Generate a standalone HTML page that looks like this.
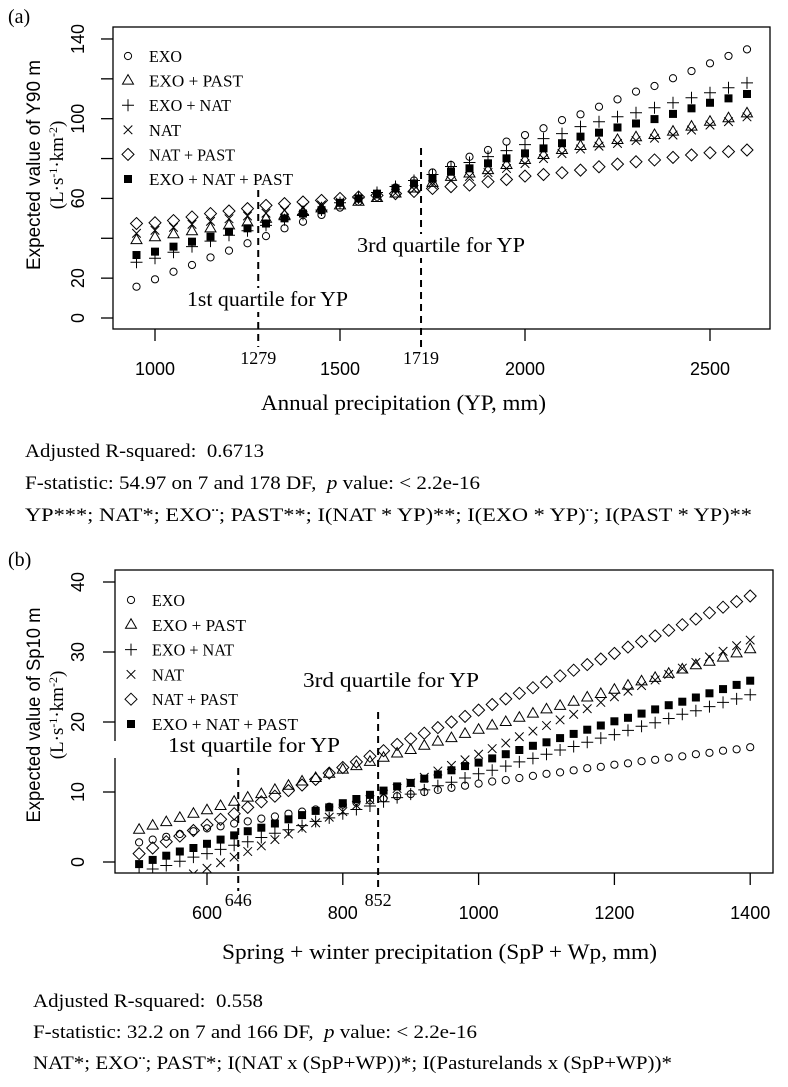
<!DOCTYPE html>
<html><head><meta charset="utf-8"><style>
html,body{margin:0;padding:0;background:#fff;}
svg{display:block;font-family:"Liberation Serif",serif;}
.sans{font-family:"Liberation Sans",sans-serif;}
</style></head><body>
<svg id="fig" width="788" height="1087" viewBox="0 0 788 1087" xmlns="http://www.w3.org/2000/svg">
<defs>
<clipPath id="clipA"><rect x="113" y="27" width="657" height="302"/></clipPath>
<clipPath id="clipB"><rect x="115" y="570" width="658" height="303"/></clipPath>
</defs>
<g id="panelA"></g>
<g id="panelB"></g>
</svg>
<script>
// ---------- Panel (a) data ----------
const aX = [950,1000,1050,1100,1150,1200,1250,1300,1350,1400,1450,1500,1550,1600,1650,1700,1750,1800,1850,1900,1950,2000,2050,2100,2150,2200,2250,2300,2350,2400,2450,2500,2550,2600];
const aEXO = [15.7,19.4,23.2,26.6,30.4,33.8,37.5,41.1,45.0,48.3,51.7,55.4,58.4,62.0,65.5,69.0,73.0,76.8,80.9,84.3,88.5,91.8,95.2,99.3,102.2,106,109.7,113.6,116.4,120.3,123.9,127.8,131.5,134.8];
const aEXOPAST = [39.1,40.5,42.0,43.5,45.0,46.5,48.0,49.8,51.5,53.2,55.0,56.5,58.3,60.2,62.5,65.0,67.8,70.8,72.5,74.2,76.8,79.3,81.8,84.3,86.3,87.7,89.3,90.7,91.8,93.5,96.0,98.5,100.2,102.7];
const aEXONAT = [28.0,30.0,33.0,35.8,38.6,41.5,43.8,46.5,49.3,52.0,54.2,57.8,60.3,63.0,66.0,69.0,72.0,76,78,81,84,87,90,92.5,96,98.5,101,103,105.5,108,110.5,113,115.5,118];
const aNAT = [42.5,44.0,45.5,47.0,48.5,49.8,51.2,52.6,54.0,55.4,56.8,58.2,59.5,61.0,62.6,64.5,66.8,69.0,71.0,73.0,75.0,77.5,80.0,82.5,84.8,86.2,87.6,89.0,90.2,91.8,94.3,96.8,98.5,100.9];
const aNATPAST = [47.4,47.8,48.9,50.7,52.4,53.7,54.9,56.5,57.4,58.2,59.0,60.0,60.7,61.5,62.4,63.5,65.0,65.9,66.7,68.4,69.5,71.2,72.0,72.9,74.2,75.9,77.2,78.4,79.3,80.6,81.8,82.9,83.5,84.3];
const aALL = [31.6,33.3,35.8,38.3,40.8,43.3,45.0,47.4,50.0,52.4,54.1,57.8,60.0,62.4,65.0,67.5,70.0,73.4,75.1,77.6,80.1,82.6,85.1,87.7,91.0,93.0,95.6,97.6,99.8,102.4,105.2,108.0,110.2,112.4];
const aXTicks = [1000,1500,2000,2500];
const aYTicks = [0,20,40,60,80,100,120,140];
const aYLabels = [0,20,60,100,140];
const aQuart = [1279,1719];

// ---------- Panel (b) data ----------
const bX = [500,520,540,560,580,600,620,640,660,680,700,720,740,760,780,800,820,840,860,880,900,920,940,960,980,1000,1020,1040,1060,1080,1100,1120,1140,1160,1180,1200,1220,1240,1260,1280,1300,1320,1340,1360,1380,1400];
const bEXO = [2.8,3.2,3.6,4.0,4.4,4.8,5.1,5.5,5.8,6.2,6.5,6.9,7.2,7.5,7.9,8.2,8.5,8.8,9.1,9.4,9.7,10.0,10.3,10.6,10.9,11.2,11.5,11.7,12.0,12.3,12.6,12.8,13.1,13.4,13.6,13.9,14.1,14.4,14.6,14.9,15.1,15.4,15.6,15.9,16.1,16.4];
const bEXOPAST = [4.6,5.2,5.7,6.3,6.9,7.4,8.0,8.6,9.2,9.7,10.3,10.9,11.5,12.0,12.6,13.2,13.7,14.3,14.9,15.5,16.0,16.6,17.2,17.7,18.3,18.9,19.5,20.0,20.6,21.2,21.8,22.3,22.9,23.5,24.0,24.6,25.2,25.8,26.3,26.9,27.5,28.1,28.6,29.2,29.8,30.4];
const bEXONAT = [-1.6,-1.0,-0.5,0.1,0.7,1.2,1.8,2.4,2.9,3.5,4.1,4.6,5.2,5.8,6.3,6.9,7.5,8.0,8.6,9.2,9.7,10.3,10.9,11.4,12.0,12.6,13.1,13.7,14.3,14.8,15.4,16.0,16.5,17.1,17.7,18.2,18.8,19.4,19.9,20.5,21.1,21.6,22.2,22.8,23.3,23.9];
const bNAT = [-5.0,-4.2,-3.4,-2.6,-1.7,-0.9,-0.1,0.7,1.5,2.3,3.2,4.0,4.8,5.6,6.4,7.2,8.1,8.9,9.7,10.5,11.3,12.1,13.0,13.8,14.6,15.4,16.2,17.0,17.9,18.7,19.5,20.3,21.1,21.9,22.8,23.6,24.4,25.2,26.0,26.8,27.7,28.5,29.3,30.1,30.9,31.7];
const bNATPAST = [1.2,2.0,2.9,3.7,4.5,5.3,6.1,6.9,7.8,8.6,9.4,10.2,11.0,11.8,12.7,13.5,14.3,15.1,15.9,16.8,17.6,18.4,19.2,20.0,20.8,21.7,22.5,23.3,24.1,24.9,25.7,26.6,27.4,28.2,29.0,29.8,30.7,31.5,32.3,33.1,33.9,34.7,35.6,36.4,37.2,38.0];
const bALL = [-0.3,0.3,0.9,1.5,2.0,2.6,3.2,3.8,4.4,4.9,5.5,6.1,6.7,7.3,7.8,8.4,9.0,9.6,10.2,10.8,11.3,11.9,12.5,13.1,13.7,14.2,14.8,15.4,16.0,16.6,17.1,17.7,18.3,18.9,19.5,20.1,20.6,21.2,21.8,22.4,22.9,23.5,24.1,24.7,25.3,25.9];
const bXTicks = [600,800,1000,1200,1400];
const bYTicks = [0,10,20,30,40];
const bQuart = [646,852];

const legendNames = ["EXO","EXO + PAST","EXO + NAT","NAT","NAT + PAST","EXO + NAT + PAST"];
const symbols = ["circle","triangle","plus","cross","diamond","square"];

const NS = "http://www.w3.org/2000/svg";
function mk(tag, attrs, parent){
  const e = document.createElementNS(NS, tag);
  for (const k in attrs) e.setAttribute(k, attrs[k]);
  if (parent) parent.appendChild(e);
  return e;
}
function txt(parent, x, y, s, size, anchor, cls, rot, len){
  const t = mk("text", {x:x, y:y, "font-size":size, "text-anchor":anchor||"start", fill:"#000"}, parent);
  if (cls) t.setAttribute("class", cls);
  if (rot) t.setAttribute("transform", "rotate(-90 "+x+" "+y+")");
  if (len) { t.setAttribute("textLength", len); t.setAttribute("lengthAdjust", "spacingAndGlyphs"); }
  t.textContent = s;
  return t;
}
function drawSym(g, type, x, y){
  let e;
  const st = {fill:"none", stroke:"#000", "stroke-width":1};
  if (type==="circle") e = mk("circle", Object.assign({cx:x, cy:y, r:3.6}, st), g);
  else if (type==="triangle") e = mk("path", Object.assign({d:`M${x} ${y-6}L${x+5.5} ${y+3.5}L${x-5.5} ${y+3.5}Z`}, st), g);
  else if (type==="plus") e = mk("path", Object.assign({d:`M${x-6} ${y}H${x+6}M${x} ${y-6}V${y+6}`}, st), g);
  else if (type==="cross") e = mk("path", Object.assign({d:`M${x-4.3} ${y-4.3}L${x+4.3} ${y+4.3}M${x+4.3} ${y-4.3}L${x-4.3} ${y+4.3}`}, st), g);
  else if (type==="diamond") e = mk("path", Object.assign({d:`M${x} ${y-6}L${x+6} ${y}L${x} ${y+6}L${x-6} ${y}Z`}, st), g);
  else e = mk("rect", {x:x-4, y:y-4, width:8, height:8, fill:"#000"}, g);
  return e;
}

function panel(cfg){
  const g = document.getElementById(cfg.id);
  const sx = v => cfg.px0 + (v - cfg.v0) * cfg.kx;
  const sy = v => cfg.py0 - v * cfg.ky;
  const pl = txt(g, 8, cfg.box[1]-4, cfg.tag, 20);
  
  
  const sg = mk("g", {"clip-path":"url(#"+cfg.clip+")"}, g);
  
  
  cfg.series.forEach((arr, si) => {
    const gg = mk("g", {}, sg);
    
    
    arr.forEach((v, i) => {
      const p = drawSym(gg, symbols[si], sx(cfg.xs[i]), sy(v));
      
      
    });
  });
  cfg.quart.forEach((q, i) => {
    const l = mk("line", {x1:sx(q), x2:sx(q), y1:cfg.qTop[i], y2:cfg.box[3]+18, stroke:"#000", "stroke-width":2, "stroke-dasharray":"7,5"}, g);
    
    
    const t = txt(g, sx(q), cfg.qLabY, String(q), 18, "middle");
    
    
  });
  cfg.notes.forEach(n => {
    mk("rect", {x:n[0]-2, y:n[1]-18, width:n[3]+4, height:24, fill:"#fff"}, g);
    const t = txt(g, n[0], n[1], n[2], 21, "start", null, false, n[3]);
    
    
  });
  const [x0,y0,x1,y1] = cfg.box;
  const bx = mk("rect", {x:x0, y:y0, width:x1-x0, height:y1-y0, fill:"none", stroke:"#000", "stroke-width":1.3}, g);
  
  
  if (cfg.gap) mk("rect", {x:x0-2, y:cfg.gap[0], width:5, height:cfg.gap[1], fill:"#fff"}, g);
  cfg.xticks.forEach(v => {
    mk("line", {x1:sx(v), x2:sx(v), y1:y1, y2:y1+12, stroke:"#000", "stroke-width":1.3}, g);
    const t = txt(g, sx(v), cfg.xLabY, String(v), 18, "middle", "sans");
    
    
  });
  cfg.yticks.forEach(v => {
    mk("line", {x1:x0-12, x2:x0, y1:sy(v), y2:sy(v), stroke:"#000", "stroke-width":1.3}, g);
  });
  cfg.ylabels.forEach(v => {
    const t = txt(g, 84, sy(v), String(v), 18, "middle", "sans", true);
    
    
  });
  const yt = txt(g, 40, cfg.yTitleY, cfg.yTitle, 19, "middle", "sans", true, cfg.yTitleLen);
  
  
  const yu = mk("text", {x:63, y:cfg.yTitleY, "font-size":19, "text-anchor":"middle", transform:"rotate(-90 63 "+cfg.yTitleY+")"}, g);
  yu.innerHTML = '(L·s<tspan dy="-6" font-size="12">-1</tspan><tspan dy="6">·km</tspan><tspan dy="-6" font-size="12">-2</tspan><tspan dy="6">)</tspan>';
  
  
  const xt = txt(g, cfg.xTitleX, cfg.xTitleY, cfg.xTitle, 22, "start", null, false, cfg.xTitleLen);
  
  
  const lg = mk("g", {}, g);
  
  
  legendNames.forEach((n, i) => {
    const yy = cfg.legY + i * cfg.legDy;
    const e = mk("g", {}, lg);
    
    
    drawSym(e, symbols[i], cfg.legX, yy);
    txt(e, cfg.legX + 21, yy + 6, n, 17, "start", null, false, cfg.legLens[i]);
  });
  cfg.stats.forEach((s, i) => {
    const t = mk("text", {x:cfg.statX, y:cfg.statY + i * cfg.statDy, "font-size":19, textLength:cfg.statLens[i], lengthAdjust:"spacingAndGlyphs"}, g);
    t.innerHTML = s;
    
    
  });
}

panel({id:"panelA", tag:"(a)", clip:"clipA", box:[113,27,770,329],
  px0:155, v0:1000, kx:0.37, py0:318, ky:1.993,
  xs:aX, series:[aEXO,aEXOPAST,aEXONAT,aNAT,aNATPAST,aALL],
  xticks:aXTicks, xLabY:375, yticks:aYTicks, ylabels:aYLabels,
  quart:aQuart, qTop:[190,148], qLabY:364,
  notes:[[187,306,"1st quartile for YP",161],[357,252,"3rd quartile for YP",168]],
  gap:null,
  yTitle:"Expected value of Y90 m", yTitleY:165, yTitleLen:210,
  xTitle:"Annual precipitation (YP, mm)", xTitleX:261, xTitleY:410, xTitleLen:285,
  legX:128, legY:56, legDy:24.6, legLens:[33,94,82,32,86,144],
  statX:25, statY:457, statDy:32, statLens:[239,455,727],
  stats:["Adjusted R-squared:&#160; 0.6713",
    "F-statistic: 54.97 on 7 and 178 DF,&#160; <tspan font-style=\"italic\">p</tspan> value: &lt; 2.2e-16",
    "YP***; NAT*; EXO¨; PAST**; I(NAT * YP)**; I(EXO * YP)¨; I(PAST * YP)**"]
});
panel({id:"panelB", tag:"(b)", clip:"clipB", box:[115,570,773,873],
  px0:207, v0:600, kx:0.679, py0:862, ky:7.0,
  xs:bX, series:[bEXO,bEXOPAST,bEXONAT,bNAT,bNATPAST,bALL],
  xticks:bXTicks, xLabY:919, yticks:bYTicks, ylabels:bYTicks,
  quart:bQuart, qTop:[768,712], qLabY:906,
  notes:[[168,752,"1st quartile for YP",172],[303,687,"3rd quartile for YP",176]],
  gap:[741,17],
  yTitle:"Expected value of Sp10 m", yTitleY:715, yTitleLen:215,
  xTitle:"Spring +  winter precipitation (SpP + Wp, mm)", xTitleX:222, xTitleY:959, xTitleLen:435,
  legX:131, legY:600, legDy:24.8, legLens:[33,94,82,32,86,146],
  statX:33, statY:1007, statDy:31, statLens:[230,444,639],
  stats:["Adjusted R-squared:&#160; 0.558",
    "F-statistic: 32.2 on 7 and 166 DF,&#160; <tspan font-style=\"italic\">p</tspan> value: &lt; 2.2e-16",
    "NAT*; EXO¨; PAST*; I(NAT x (SpP+WP))*; I(Pasturelands x (SpP+WP))*"]
});
</script>
</body></html>
